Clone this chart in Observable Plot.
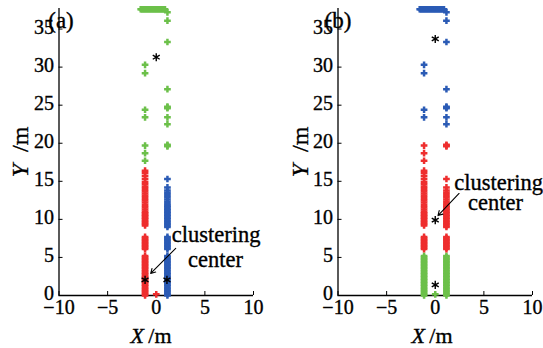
<!DOCTYPE html>
<html>
<head>
<meta charset="utf-8">
<script src="https://cdn.jsdelivr.net/npm/d3@7"></script>
<script src="https://cdn.jsdelivr.net/npm/@observablehq/plot@0.6"></script>
<style>
  html, body { margin: 0; padding: 0; background: white; overflow: hidden; }
  #wrap { display: flex; width: 543px; height: 348px; }
  svg { overflow: visible; flex: none; }
</style>
</head>
<body>
<div id="wrap"></div>
<script>
// ---- data ----
const xTicks = [-10, -5, 0, 5, 10];
const yTicks = [0, 5, 10, 15, 20, 25, 30, 35];
const leftX = -1.15;
const rightX = 1.15;
const lowSeg = [0.0,0.2,0.4,0.6,0.8,1.0,1.2,1.4,1.6,1.8,2.0,2.2,2.4,2.6,2.8,3.0,3.2,3.4,3.6,3.8,4.0,4.2,4.4,4.6,4.8,5.0,5.2];
const midSeg = [6.1,6.3,6.5,6.7,6.9,7.1,7.3,7.5,7.7];
const leftUpper = [9.2,9.4,9.6,9.8,10.0,10.2,10.4,10.6,10.8,11.0,11.3,11.6,11.9,12.2,12.5,12.8,13.1,13.4,13.7,14.0,14.3,14.6,14.9,15.3,15.7,16.1,16.4];
const rightUpper = [9.0,9.2,9.4,9.6,9.8,10.0,10.2,10.4,10.6,10.8,11.0,11.2,11.4,11.6,11.8,12.0,12.3,12.6,12.9,13.2,13.5,13.8,14.2,15.3];
const leftSparseLow = [17.7, 18.7, 19.7];
const leftSparseHigh = [23.4, 24.4, 29.2, 30.3];
const rightSparseLow = [19.6, 19.7, 19.8];
const rightSparseHigh = [22.5, 23.4, 24.6, 24.7, 24.8, 27.1, 33.3, 36.1, 37.2];
const topRowX = [-1.6,-1.5,-1.4,-1.3,-1.2,-1.1,-1.0,-0.9,-0.8,-0.7,-0.6,-0.5,-0.4,-0.3,-0.2,-0.1,0.0,0.1,0.2,0.3,0.4,0.5,0.6,0.7,0.8,0.9];
const topRowY = 37.6;
const originPoint = [[0, 0.15]];
const centersA = [[-1.15, 2.05], [1.1, 2.05], [0.0, 31.3]];
const centersB = [[0.0, 1.4], [0.0, 9.9], [0.0, 33.7]];
const colors = {red: "#ee2e2e", blue: "#2b5bb5", green: "#6cc04a"};

// ---- build point tables ----
const col = (x, ys) => ys.map(y => [x, y]);
const topRow = topRowX.map(x => [x, topRowY]);

const aRed = [...col(leftX, lowSeg), ...col(leftX, midSeg), ...col(leftX, leftUpper), ...originPoint];
const aBlue = [...col(rightX, lowSeg), ...col(rightX, midSeg), ...col(rightX, rightUpper)];
const aGreen = [...col(leftX, leftSparseLow), ...col(leftX, leftSparseHigh), ...col(rightX, rightSparseLow), ...col(rightX, rightSparseHigh), ...topRow];

const bGreen = [...col(leftX, lowSeg), ...col(rightX, lowSeg), ...originPoint];
const bRed = [...col(leftX, midSeg), ...col(leftX, leftUpper), ...col(leftX, leftSparseLow), ...col(rightX, midSeg), ...col(rightX, rightUpper), ...col(rightX, rightSparseLow)];
const bBlue = [...col(leftX, leftSparseHigh), ...col(rightX, rightSparseHigh), ...topRow];

const font = "'Liberation Serif', 'Times New Roman', serif";
const minus = d => d < 0 ? "\u2212" + Math.abs(d) : String(d);

function panel(opts) {
  const plot = Plot.plot({
    width: opts.width,
    height: 348,
    marginTop: 8,
    marginBottom: 53,
    marginLeft: opts.marginLeft,
    marginRight: opts.marginRight,
    style: {fontFamily: font, fontSize: "20px", background: "white", color: "black", overflow: "visible"},
    x: {domain: [-10, 10]},
    y: {domain: [0, 37.7]},
    marks: [
      Plot.ruleX([-10], {stroke: "black", strokeWidth: 1.3}),
      Plot.ruleY([0], {stroke: "black", strokeWidth: 1.3}),
      // inward tick marks
      Plot.axisX({ticks: xTicks, tickSize: -4, text: null, label: null}),
      Plot.axisY({ticks: yTicks, tickSize: -4, text: null, label: null}),
      // tick labels
      Plot.axisX({ticks: xTicks, tickSize: 0, tickPadding: 4, label: null, fontSize: 20, fontFamily: font, tickFormat: minus}),
      Plot.axisY({ticks: yTicks, tickSize: 0, tickPadding: 5, dy: -1.5, label: null, fontSize: 20, fontFamily: font}),
      ...opts.groups.map(([data, color]) =>
        Plot.dot(data, {x: d => d[0], y: d => d[1], symbol: "plus", r: 2.3, stroke: color, strokeWidth: 2.5})),
      Plot.dot(opts.centers, {x: d => d[0], y: d => d[1], symbol: "asterisk", r: 3.8, stroke: "black", strokeWidth: 1.4}),
      Plot.arrow([opts.arrow], {x1: d => d[0], y1: d => d[1], x2: d => d[2], y2: d => d[3], stroke: "black", strokeWidth: 1.1, headLength: 7, bend: 0}),
      Plot.text([opts.ann[0]], {x: d => d[1], y: d => d[2], text: d => d[0], textAnchor: "start", lineAnchor: "middle", fontSize: 22.5, fontFamily: font, fill: "black"}),
      Plot.text([opts.ann[1]], {x: d => d[1], y: d => d[2], text: d => d[0], textAnchor: "middle", lineAnchor: "middle", fontSize: 22.5, fontFamily: font, fill: "black"})
    ]
  });
  const svg = d3.select(plot);
  svg.append("text").attr("x", opts.xLabel[0]).attr("y", opts.xLabel[1]).attr("text-anchor", "middle")
    .attr("font-family", font).attr("font-size", 22)
    .call(t => { t.append("tspan").attr("font-style", "italic").text("X"); t.append("tspan").text("\u2009/m"); });
  svg.append("text").attr("transform", `translate(${opts.yLabel[0]},${opts.yLabel[1]}) rotate(-90)`).attr("text-anchor", "middle")
    .attr("font-family", font).attr("font-size", 24)
    .call(t => { t.append("tspan").attr("font-style", "italic").text("Y"); t.append("tspan").text("\u2002/m"); });
  svg.append("text").attr("x", opts.tag[1]).attr("y", opts.tag[2]).attr("font-family", font).attr("font-size", 23).text(opts.tag[0]);
  // slightly heavier glyphs, closer to the reference's typeface
  svg.selectAll("text").attr("stroke", "black").attr("stroke-width", 0.35);
  return plot;
}

const wrap = document.getElementById("wrap");
wrap.append(panel({
  width: 270, marginLeft: 58.5, marginRight: 17,
  groups: [[aRed, colors.red], [aBlue, colors.blue], [aGreen, colors.green]],
  centers: centersA,
  arrow: [2.0, 6.2, -0.57, 2.9],
  ann: [["clustering", 1.6, 7.93], ["center", 6.1, 4.74]],
  xLabel: [151, 343], yLabel: [28, 152], tag: ["(a)", 61, 28]
}));
wrap.append(panel({
  width: 273, marginLeft: 67.5, marginRight: 11,
  groups: [[bGreen, colors.green], [bRed, colors.red], [bBlue, colors.blue]],
  centers: centersB,
  arrow: [2.45, 13.4, 0.28, 10.5],
  ann: [["clustering", 1.96, 14.8], ["center", 6.2, 12.2]],
  xLabel: [162, 343], yLabel: [38, 152], tag: ["(b)", 68, 28]
}));
</script>
</body>
</html>
